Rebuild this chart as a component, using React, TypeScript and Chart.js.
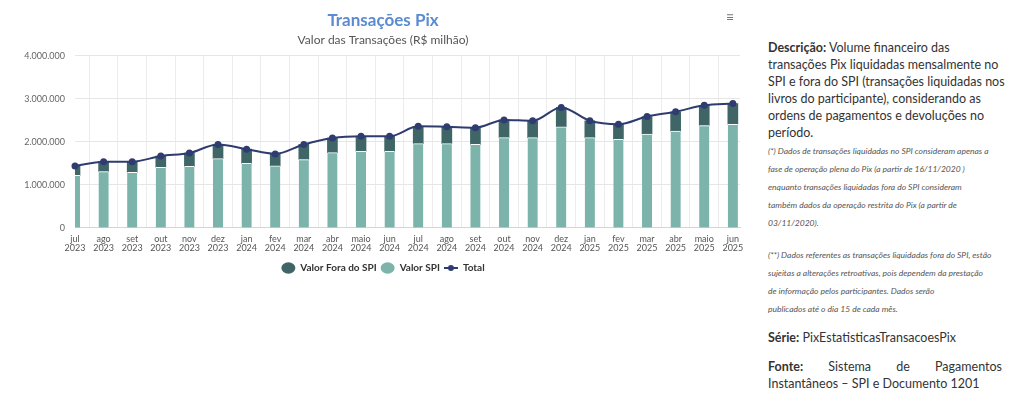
import React, { useEffect, useRef } from "react";
import { Chart, registerables } from "chart.js";

Chart.register(...registerables);

const months = ["jul", "ago", "set", "out", "nov", "dez", "jan", "fev", "mar", "abr", "maio", "jun", "jul", "ago", "set", "out", "nov", "dez", "jan", "fev", "mar", "abr", "maio", "jun"];
const years = ["2023", "2023", "2023", "2023", "2023", "2023", "2024", "2024", "2024", "2024", "2024", "2024", "2024", "2024", "2024", "2024", "2024", "2024", "2025", "2025", "2025", "2025", "2025", "2025"];

const valorSPI = [1220000, 1310000, 1290000, 1410000, 1430000, 1610000, 1500000, 1440000, 1590000, 1750000, 1780000, 1780000, 1960000, 1960000, 1940000, 2100000, 2100000, 2350000, 2100000, 2060000, 2180000, 2250000, 2380000, 2410000];
const valorForaSPI = [220000, 230000, 250000, 260000, 310000, 330000, 330000, 280000, 350000, 340000, 350000, 350000, 400000, 390000, 390000, 410000, 390000, 450000, 390000, 350000, 410000, 450000, 470000, 480000];
const total = [1440000, 1540000, 1540000, 1670000, 1740000, 1940000, 1830000, 1720000, 1940000, 2090000, 2130000, 2130000, 2360000, 2350000, 2330000, 2510000, 2490000, 2800000, 2490000, 2410000, 2590000, 2700000, 2850000, 2890000];

const yTicks = [0, 1000000, 2000000, 3000000, 4000000];

const COLOR_DARK = "#3f6567";
const COLOR_LIGHT = "#7cb3aa";
const COLOR_LINE = "#2e3c70";
const FONT = "Lato, 'Open Sans', sans-serif";

function fmt(v: number): string {
  return String(Math.round(v)).replace(/\B(?=(\d{3})+(?!\d))/g, ".");
}

function makeLineIcon(): HTMLCanvasElement {
  const c = document.createElement("canvas");
  c.width = 14;
  c.height = 8;
  const g = c.getContext("2d")!;
  g.strokeStyle = COLOR_LINE;
  g.lineWidth = 2;
  g.beginPath();
  g.moveTo(0, 4);
  g.lineTo(14, 4);
  g.stroke();
  g.fillStyle = COLOR_LINE;
  g.beginPath();
  g.arc(7, 4, 3, 0, Math.PI * 2);
  g.fill();
  return c;
}

export default function App() {
  const ref = useRef<HTMLCanvasElement | null>(null);

  useEffect(() => {
    if (!ref.current) return;
    const lineIcon = makeLineIcon();
    const idx = months.map((_, i) => i);
    const chart = new Chart(ref.current, {
      data: {
        datasets: [
          {
            type: "line",
            label: "Total",
            data: idx.map((i) => ({ x: i, y: total[i] })),
            borderColor: COLOR_LINE,
            backgroundColor: COLOR_LINE,
            borderWidth: 2,
            pointRadius: 3.5,
            pointHoverRadius: 3.5,
            pointBackgroundColor: COLOR_LINE,
            pointBorderWidth: 0,
            tension: 0.4,
            cubicInterpolationMode: "monotone",
            clip: false,
            order: 0,
          } as any,
          {
            type: "bar",
            label: "Valor SPI",
            data: idx.map((i) => ({ x: i, y: valorSPI[i] })),
            backgroundColor: COLOR_LIGHT,
            borderColor: "#ffffff",
            borderWidth: { top: 1, left: 0, right: 0, bottom: 0 },
            borderSkipped: "bottom",
            barThickness: 10,
            stack: "s",
            order: 1,
          } as any,
          {
            type: "bar",
            label: "Valor Fora do SPI",
            data: idx.map((i) => ({ x: i, y: valorForaSPI[i] })),
            backgroundColor: COLOR_DARK,
            borderWidth: 0,
            barThickness: 10,
            stack: "s",
            order: 2,
          } as any,
        ],
      },
      options: {
        animation: false,
        responsive: true,
        maintainAspectRatio: false,
        layout: { padding: { left: 0, right: 0, top: 0, bottom: 0 } },
        plugins: {
          title: {
            display: true,
            text: "Transações Pix",
            color: "#5b8bd0",
            font: { family: FONT, size: 17, weight: "bold" },
            padding: { top: 10, bottom: 3 },
          },
          subtitle: {
            display: true,
            text: "Valor das Transações (R$ milhão)",
            color: "#555555",
            font: { family: FONT, size: 12 },
            padding: { top: 0, bottom: 8 },
          },
          legend: {
            position: "bottom",
            labels: {
              usePointStyle: true,
              boxHeight: 8,
              pointStyleWidth: 14,
              color: "#333333",
              font: { family: FONT, size: 10, weight: "bold" },
              padding: 4,
              sort: (a: any, b: any) => {
                const order: Record<string, number> = { "Valor Fora do SPI": 0, "Valor SPI": 1, Total: 2 };
                return order[a.text] - order[b.text];
              },
              generateLabels: (ch: any) => {
                const items = Chart.defaults.plugins.legend.labels.generateLabels(ch);
                return items.map((it: any) => {
                  if (it.text === "Total") {
                    return { ...it, pointStyle: lineIcon, lineWidth: 0 };
                  }
                  return { ...it, pointStyle: "circle", lineWidth: 0, strokeStyle: "transparent" };
                });
              },
            },
          },
          tooltip: { enabled: false },
        },
        scales: {
          x: {
            type: "linear",
            min: 0,
            max: 23.25,
            offset: false,
            stacked: true,
            afterBuildTicks: (scale: any) => {
              scale.ticks = idx.map((i) => ({ value: i }));
            },
            ticks: {
              autoSkip: false,
              maxRotation: 0,
              color: "#555555",
              font: { family: FONT, size: 9, lineHeight: 0.95 },
              padding: 7,
              callback: (v: any) => {
                const i = Math.round(Number(v));
                return [months[i], years[i]];
              },
            },
            grid: { color: "#ececec", drawTicks: false },
            border: { color: "#ccd6eb" },
          },
          y: {
            stacked: true,
            min: 0,
            max: 4000000,
            afterBuildTicks: (scale: any) => {
              scale.ticks = yTicks.map((v) => ({ value: v }));
            },
            afterFit: (scale: any) => {
              scale.width = 75;
            },
            ticks: {
              color: "#666666",
              font: { family: FONT, size: 9 },
              padding: 10,
              callback: (v: any) => fmt(Number(v)),
            },
            grid: { color: "#e6e6e6", drawTicks: false },
            border: { display: false },
          },
          yRight: {
            position: "right",
            display: true,
            ticks: { display: false },
            grid: { display: false },
            border: { display: false },
            afterFit: (scale: any) => {
              scale.width = 26;
            },
          },
        },
      } as any,
    });
    return () => chart.destroy();
  }, []);

  const nowrap: React.CSSProperties = { whiteSpace: "nowrap" };
  return (
    <div style={{ position: "absolute", left: 0, top: 0, width: 1024, height: 398, background: "#fff", overflow: "hidden", fontFamily: FONT }}>
      <div style={{ position: "absolute", left: 0, top: 0, width: 766, height: 283 }}>
        <canvas ref={ref} />
      </div>
      <div style={{ position: "absolute", left: 726, top: 10, color: "#777", fontSize: 14, lineHeight: "14px" }}>≡</div>
      <div style={{ position: "absolute", left: 768, top: 39, width: 234, color: "#333", fontFamily: FONT }}>
        <div style={{ fontSize: 12.5, lineHeight: "17px", ...nowrap }}>
          <div><b>Descrição:</b> Volume financeiro das</div>
          <div>transações Pix liquidadas mensalmente no</div>
          <div>SPI e fora do SPI (transações liquidadas nos</div>
          <div>livros do participante), considerando as</div>
          <div>ordens de pagamentos e devoluções no</div>
          <div>período.</div>
        </div>
        <div style={{ fontSize: 8.5, lineHeight: "18px", fontStyle: "italic", color: "#555", marginTop: 1, ...nowrap }}>
          <div>(*) Dados de transações liquidadas no SPI consideram apenas a</div>
          <div>fase de operação plena do Pix (a partir de 16/11/2020 )</div>
          <div>enquanto transações liquidadas fora do SPI consideram</div>
          <div>também dados da operação restrita do Pix (a partir de</div>
          <div>03/11/2020).</div>
        </div>
        <div style={{ fontSize: 8.5, lineHeight: "18px", fontStyle: "italic", color: "#555", marginTop: 14, ...nowrap }}>
          <div>(**) Dados referentes as transações liquidadas fora do SPI, estão</div>
          <div>sujeitas a alterações retroativas, pois dependem da prestação</div>
          <div>de informação pelos participantes. Dados serão</div>
          <div>publicados até o dia 15 de cada mês.</div>
        </div>
        <div style={{ fontSize: 12.5, lineHeight: "17px", marginTop: 11, ...nowrap }}>
          <b>Série:</b> PixEstatisticasTransacoesPix
        </div>
        <div style={{ fontSize: 12.5, lineHeight: "17px", marginTop: 12 }}>
          <div style={{ textAlign: "justify", textAlignLast: "justify" } as any}><b>Fonte:</b> Sistema de Pagamentos</div>
          <div style={nowrap}>Instantâneos – SPI e Documento 1201</div>
        </div>
      </div>
    </div>
  );
}
